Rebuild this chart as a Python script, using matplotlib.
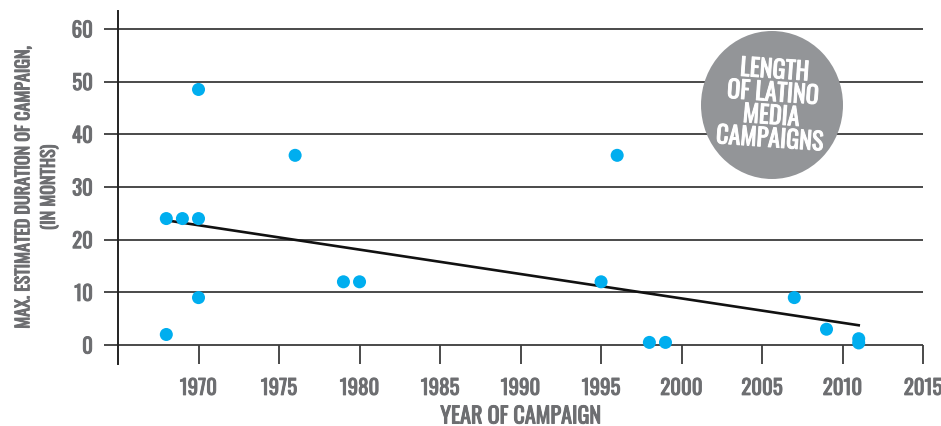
import matplotlib.pyplot as plt
import matplotlib.patheffects as pe
from matplotlib.patches import Ellipse
import numpy as np

plt.rcParams['font.family'] = ['Oswald', 'IBM Plex Sans Condensed', 'DejaVu Sans']

# campaigns: year started and max estimated duration (months)
years = np.array([1968, 1968, 1969, 1970, 1970, 1970, 1976, 1979, 1980,
                  1995, 1996, 1998, 1999, 2007, 2009, 2011, 2011])
months = np.array([24, 2, 24, 24, 48.5, 9, 36, 12, 12,
                   12, 36, 0.5, 0.5, 9, 3, 1.2, 0.4])

x_ticks = [1970, 1975, 1980, 1985, 1990, 1995, 2000, 2005, 2010, 2015]
y_ticks = [0, 10, 20, 30, 40, 50, 60]

grey_text = '#6d6e71'
dot_blue = '#00aeef'
grid_col = '#3c3c3c'

# fake a heavier weight for the condensed font
bold_grey = [pe.withStroke(linewidth=0.7, foreground=grey_text)]
bold_white = [pe.withStroke(linewidth=0.7, foreground='white')]

fig = plt.figure(figsize=(9.41, 4.27), dpi=100)
ax = fig.add_axes([0.1254, 0.1452, 0.981 - 0.1254, 0.972 - 0.1452])

ax.set_xlim(1965, 2015)
ax.set_ylim(-3.6, 63.4)

for s in ['top', 'right', 'bottom']:
    ax.spines[s].set_visible(False)
ax.spines['left'].set_color('#222222')
ax.spines['left'].set_linewidth(1.4)

# horizontal gridlines (with outward ticks on the left)
for v in y_ticks:
    ax.axhline(v, color=grid_col, lw=1.3, zorder=1)
ax.set_yticks(y_ticks)
ax.tick_params(axis='y', direction='out', length=10, width=1.3, color=grid_col,
               pad=8, labelsize=15, labelcolor=grey_text)

ax.set_xticks(x_ticks)
ax.tick_params(axis='x', direction='in', length=13.5, width=1.3, color=grid_col,
               pad=10, labelsize=15, labelcolor=grey_text)
for lab in ax.get_xticklabels() + ax.get_yticklabels():
    lab.set_path_effects(bold_grey)

# trend line
coef = np.polyfit(years, months, 1)
tx = np.array([years.min(), years.max()])
ax.plot(tx, np.polyval(coef, tx), color='#111111', lw=1.9, zorder=3)

ax.scatter(years, months, s=88, color=dot_blue, edgecolors='none', zorder=4)

ax.set_xlabel('YEAR OF CAMPAIGN', fontsize=16, color=grey_text, labelpad=5.5,
              path_effects=bold_grey)
ax.set_ylabel('MAX. ESTIMATED DURATION OF CAMPAIGN,\n(IN MONTHS)', fontsize=13,
              color=grey_text, labelpad=9, linespacing=1.5,
              path_effects=bold_grey)

# title badge
badge = Ellipse((772, 427 - 106), 142, 148, transform=None,
                facecolor='#939598', edgecolor='none', zorder=5)
fig.patches.append(badge)
fig.text(772 / 941, 1 - 106 / 427, 'LENGTH\nOF LATINO\nMEDIA\nCAMPAIGNS',
         ha='center', va='center', color='white', fontsize=17.5,
         rotation=-4, linespacing=1.0, zorder=6, path_effects=bold_white)

fig.savefig('out.png', dpi=100)
